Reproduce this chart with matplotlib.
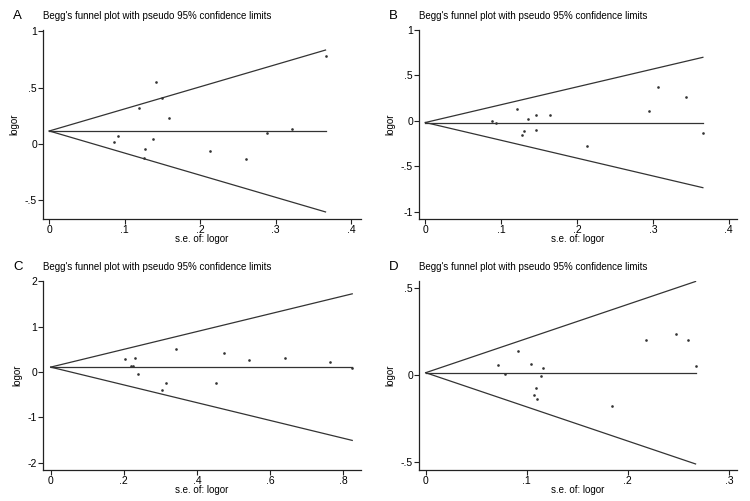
import numpy as np
import matplotlib.pyplot as plt
from matplotlib.ticker import FuncFormatter

plt.rcParams['font.family'] = ['Liberation Sans', 'DejaVu Sans']

# panel data: standard error and log odds ratio of each study
se_a = [0.366, 0.142, 0.149, 0.119, 0.159, 0.322, 0.289, 0.091, 0.137, 0.086, 0.127, 0.213, 0.260, 0.126]
lor_a = [0.784, 0.548, 0.411, 0.317, 0.234, 0.136, 0.100, 0.074, 0.044, 0.021, -0.043, -0.064, -0.133, -0.127]
pool_a = 0.115

se_b = [0.307, 0.344, 0.295, 0.366, 0.121, 0.146, 0.165, 0.136, 0.088, 0.093, 0.130, 0.127, 0.146, 0.213]
lor_b = [0.368, 0.262, 0.110, -0.136, 0.132, 0.063, 0.068, 0.024, 0.0, -0.028, -0.116, -0.155, -0.100, -0.272]
pool_b = -0.018

se_c = [0.203, 0.232, 0.220, 0.226, 0.238, 0.316, 0.304, 0.343, 0.451, 0.473, 0.542, 0.640, 0.764, 0.825]
lor_c = [0.280, 0.316, 0.132, 0.132, -0.051, -0.243, -0.397, 0.515, -0.250, 0.426, 0.265, 0.316, 0.220, 0.095]
pool_c = 0.11

se_d = [0.072, 0.078, 0.091, 0.104, 0.116, 0.114, 0.109, 0.107, 0.110, 0.184, 0.218, 0.248, 0.260, 0.267]
lor_d = [0.058, 0.006, 0.139, 0.063, 0.037, -0.004, -0.075, -0.117, -0.136, -0.179, 0.202, 0.233, 0.202, 0.052]
pool_d = 0.012

panels = [
    ('A', se_a, lor_a, pool_a, [0, .1, .2, .3, .4], [-.5, 0, .5, 1], (-0.0083, 0.413), (-0.665, 1.01)),
    ('B', se_b, lor_b, pool_b, [0, .1, .2, .3, .4], [-1, -.5, 0, .5, 1], (-0.0084, 0.411), (-1.08, 0.995)),
    ('C', se_c, lor_c, pool_c, [0, .2, .4, .6, .8], [-2, -1, 0, 1, 2], (-0.021, 0.849), (-2.16, 2.01)),
    ('D', se_d, lor_d, pool_d, [0, .1, .2, .3], [-.5, 0, .5], (-0.0066, 0.308), (-0.546, 0.538)),
]

# axes boxes in pixels (left, top) of the 750x501 picture
W, H = 750, 501
boxes = [(43, 30), (419, 30), (43, 281), (419, 281)]
aw, ah = 318, 189


def stata_fmt(v, pos):
    # Stata style labels: .5 instead of 0.5
    s = '%g' % v
    s = s.replace('0.', '.')
    if s == '-0':
        s = '0'
    return s


fig = plt.figure(figsize=(7.5, 5.01), dpi=100)
fmt = FuncFormatter(stata_fmt)

for (letter, se, lor, pool, xt, yt, xl, yl), (bx, by) in zip(panels, boxes):
    ax = fig.add_axes([bx / W, 1 - (by + ah) / H, aw / W, ah / H])
    se = np.array(se)
    smax = se.max()
    s_line = np.array([0, smax])
    # pseudo 95% limits and pooled estimate
    ax.plot(s_line, pool + 1.96 * s_line, color='#333333', lw=0.9)
    ax.plot(s_line, pool - 1.96 * s_line, color='#333333', lw=0.9)
    ax.plot(s_line, [pool, pool], color='#333333', lw=0.9)
    ax.plot(se, lor, 'o', ms=1.9, color='#333333', mew=0)

    ax.set_xlim(*xl)
    ax.set_ylim(*yl)
    ax.set_xticks(xt)
    ax.set_yticks(yt)
    ax.xaxis.set_major_formatter(fmt)
    ax.yaxis.set_major_formatter(fmt)
    for sp in ['top', 'right']:
        ax.spines[sp].set_visible(False)
    for sp in ['left', 'bottom']:
        ax.spines[sp].set_color('#222222')
        ax.spines[sp].set_linewidth(0.9)
    ax.tick_params(direction='out', length=3.5, width=0.8, labelsize=7.5, pad=0.8, color='#222222')
    ax.set_xlabel('s.e. of: logor', fontsize=7, labelpad=-0.5)
    ax.set_ylabel('logor', fontsize=7, labelpad=4)
    ax.set_title("Begg's funnel plot with pseudo 95% confidence limits", loc='left',
                 fontsize=7.0, pad=8)
    ax.text(-0.094, 1.074, letter, transform=ax.transAxes, fontsize=9.5,
            ha='left', va='center')

fig.savefig('out.png', dpi=100)
